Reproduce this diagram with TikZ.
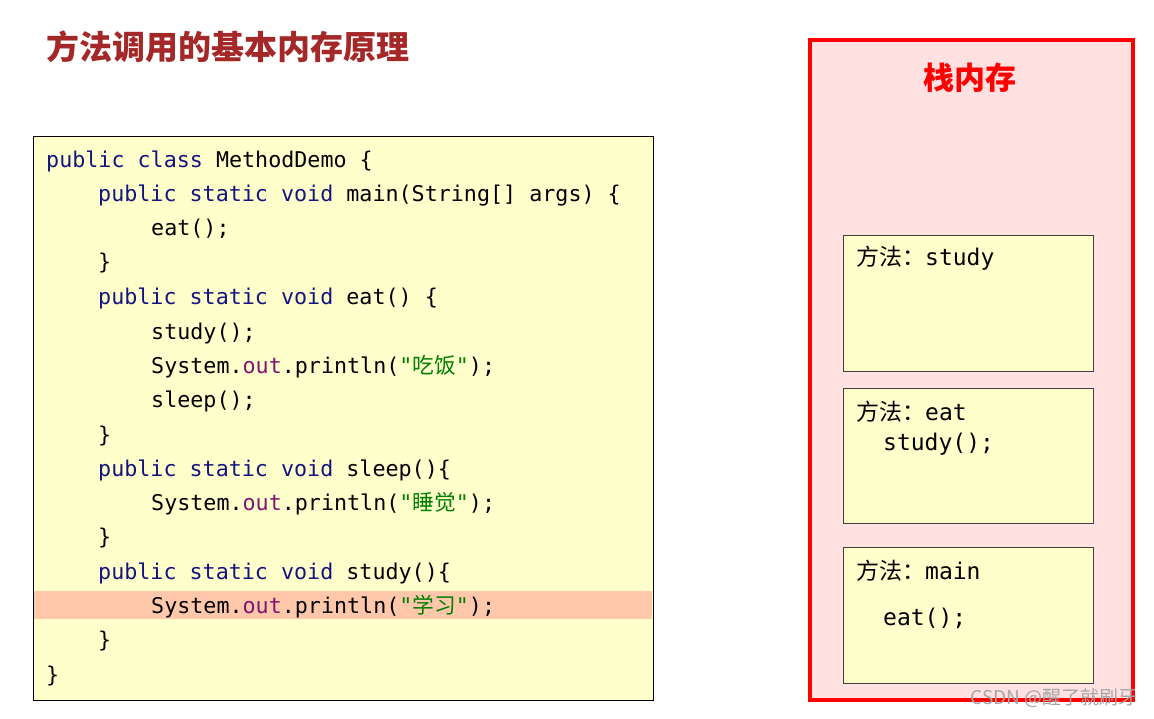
\documentclass[tikz,border=0pt]{standalone}
\usepackage{fontspec}
\setmonofont{DejaVu Sans Mono}
\newfontfamily\cjk{Noto Sans CJK SC}
\usetikzlibrary{positioning}
\definecolor{kwblue}{RGB}{20,20,128}
\definecolor{outpurple}{RGB}{128,20,110}
\definecolor{strgreen}{RGB}{0,128,0}
\definecolor{codebg}{RGB}{255,255,204}
\definecolor{hlbar}{RGB}{255,200,170}
\definecolor{stackbg}{RGB}{255,225,225}
\definecolor{titlered}{RGB}{165,40,40}
\newcommand{\kw}[1]{\textcolor{kwblue}{#1}}
\newcommand{\outf}{\textcolor{outpurple}{out}}
\newcommand{\str}[1]{\textcolor{strgreen}{"{\cjk #1}"}}
\begin{document}
\begin{tikzpicture}[x=1pt,y=-1pt,
        code/.style = {anchor=base west, inner sep=0pt, font=\ttfamily\fontsize{21.7}{21.7}\selectfont},
        frame/.style = {draw=black!75, fill=codebg, line width=1pt},
        label/.style = {anchor=base west, inner sep=0pt, font=\ttfamily\fontsize{23}{23}\selectfont}
        ]
        \useasboundingbox (0,0) rectangle (1154,719);
        \node (title) [anchor=west, inner sep=0pt, text=titlered, font=\cjk\bfseries\fontsize{33}{33}\selectfont] at (46,47) {方法调用的基本内存原理};
        % code box
        \draw[fill=codebg, line width=1pt] (33,137) rectangle (653,700);
        \fill[hlbar] (34,591) rectangle (652,619);
        \node (l1) [code] at (46,168) {\kw{public} \kw{class} MethodDemo \{};
        \node (l2) [code] at (98,202) {\kw{public} \kw{static} \kw{void} main(String[] args) \{};
        \node (l3) [code] at (151,236) {eat();};
        \node (l4) [code] at (98,270) {\}};
        \node (l5) [code] at (98,305) {\kw{public} \kw{static} \kw{void} eat() \{};
        \node (l6) [code] at (151,339) {study();};
        \node (l7) [code] at (151,373) {System.\outf.println(\str{吃饭});};
        \node (l8) [code] at (151,407) {sleep();};
        \node (l9) [code] at (98,442) {\}};
        \node (l10) [code] at (98,476) {\kw{public} \kw{static} \kw{void} sleep()\{};
        \node (l11) [code] at (151,510) {System.\outf.println(\str{睡觉});};
        \node (l12) [code] at (98,544) {\}};
        \node (l13) [code] at (98,579) {\kw{public} \kw{static} \kw{void} study()\{};
        \node (l14) [code] at (151,613) {System.\outf.println(\str{学习});};
        \node (l15) [code] at (98,647) {\}};
        \node (l16) [code] at (46,682) {\}};
        % stack
        \draw[draw=red, fill=stackbg, line width=4pt] (810,40) rectangle (1133,700);
        \node (stack) [inner sep=0pt, text=red, font=\cjk\bfseries\fontsize{31}{31}\selectfont] at (970,78) {栈内存};
        \draw[frame] (843,236) rectangle (1093,371);
        \draw[frame] (843,388) rectangle (1093,523);
        \draw[frame] (843,547) rectangle (1093,683);
        \node (fstudy) [label] at (856,266) {{\cjk 方法：}study};
        \node (feat) [label] at (856,420) {{\cjk 方法：}eat};
        \node (feat2) [label] at (883,450) {study();};
        \node (fmain) [label] at (856,579) {{\cjk 方法：}main};
        \node (fmain2) [label] at (883,625) {eat();};
        \node (mark) [anchor=east, inner sep=0pt, text=black!35, font=\cjk\fontsize{19}{19}\selectfont] at (1138,698) {CSDN @醒了就刷牙};
\end{tikzpicture}
\end{document}
